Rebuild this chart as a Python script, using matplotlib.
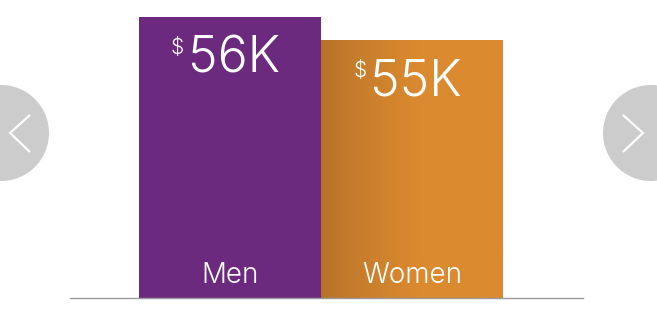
import numpy as np
import matplotlib.pyplot as plt
from matplotlib.patches import Circle
from matplotlib.colors import LinearSegmentedColormap

categories = ['Men', 'Women']
salaries = [56, 55]  # thousands of dollars
value_labels = ['56K', '55K']

purple = '#6c2a7e'
orange = '#db8a2f'
orange_dark = '#b6722a'

fig = plt.figure(figsize=(6.57, 3.23), dpi=100)
ax = fig.add_axes([0, 25 / 323, 1, 298 / 323])

x = np.arange(len(categories))
bars = ax.bar(x, salaries, width=1.0, color=[purple, orange], linewidth=0, bottom=0)

ax.set_xlim(-230 / 182, 427 / 182)
ax.set_ylim(43.8, 56.74)
ax.axis('off')

# gradient on the women bar, dark on the left fading into the flat orange
cmap = LinearSegmentedColormap.from_list('og', [orange_dark, orange])
grad = np.linspace(0, 1, 256).reshape(1, -1)
grad = np.clip(grad / 0.55, 0, 1) ** 0.8
b = bars[1]
im = ax.imshow(grad, cmap=cmap, aspect='auto', vmin=0, vmax=1,
               extent=[b.get_x(), b.get_x() + b.get_width(), 43.8, b.get_height()],
               zorder=2)
im.set_clip_path(b)

# baseline
ax.axhline(43.8, xmin=70 / 657, xmax=583 / 657, color='#9a9a9a', lw=1.0,
           clip_on=False, zorder=3)

font = 'Inter'
wt = 300
nums = []
for xi, val, lab in zip(x, salaries, value_labels):
    t = ax.annotate(lab, (xi, val), xytext=(3, -40), textcoords='offset points',
                    ha='center', va='baseline', color='white', fontsize=36,
                    family=font, fontweight=wt, zorder=4)
    nums.append(t)

for xi, cat in zip(x, categories):
    ax.text(xi, 0.05, cat, transform=ax.get_xaxis_transform(), ha='center',
            va='baseline', color='white', fontsize=20, family=font,
            fontweight=wt, zorder=4)

# small superscript dollar sign in front of each value
fig.canvas.draw()
r = fig.canvas.get_renderer()
for t in nums:
    bb = t.get_window_extent(r)
    fig.text(bb.x0 - 4, bb.y1 - 2, r'\$', ha='right', va='top', color='white',
             fontsize=15, family=font, fontweight=wt, transform=None)

# navigation arrows
ov = fig.add_axes([0, 0, 1, 1], zorder=5)
ov.set_xlim(0, 657)
ov.set_ylim(323, 0)
ov.axis('off')
ov.add_patch(Circle((1, 133), 48, color='#cccccc', lw=0))
ov.add_patch(Circle((651, 133), 48, color='#cccccc', lw=0))
ov.plot([30, 10, 30], [115, 133, 152], color='white', lw=1.6,
        solid_capstyle='butt', solid_joinstyle='miter')
ov.plot([623, 643, 623], [115, 133, 152], color='white', lw=1.6,
        solid_capstyle='butt', solid_joinstyle='miter')

fig.savefig('out.png', dpi=100)
